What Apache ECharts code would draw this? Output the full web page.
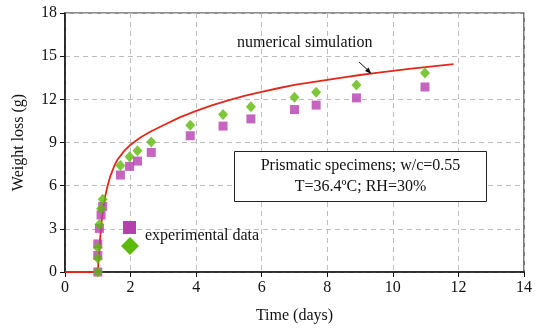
<!DOCTYPE html>
<html><head><meta charset="utf-8">
<script src="https://cdn.jsdelivr.net/npm/echarts@6/dist/echarts.min.js"></script>
<style>html,body{margin:0;padding:0;background:#fff}#c{width:535px;height:332px}</style>
</head><body><div id="c"></div>
<script>
var xTicks = [0, 2, 4, 6, 8, 10, 12, 14];
var yTicks = [0, 3, 6, 9, 12, 15, 18];
var simX = [0, 1.0, 1.03, 1.07, 1.12, 1.17, 1.23, 1.3, 1.38, 1.5, 1.6, 1.8, 2.0, 2.3, 2.6, 3.0, 3.5, 4.0, 4.5, 5.0, 5.5, 6.0, 6.5, 7.0, 7.5, 8.0, 8.5, 9.0, 9.5, 10.0, 10.5, 11.0, 11.85];
var simY = [0, 0, 1.0, 2.3, 3.6, 4.5, 5.3, 6.0, 6.65, 7.35, 7.8, 8.4, 8.85, 9.35, 9.75, 10.2, 10.75, 11.2, 11.6, 11.95, 12.25, 12.52, 12.77, 13.0, 13.18, 13.36, 13.53, 13.69, 13.84, 13.98, 14.11, 14.24, 14.45];
var greenX = [1.0, 1.0, 1.0, 1.05, 1.1, 1.15, 1.69, 1.97, 2.21, 2.63, 3.82, 4.82, 5.67, 7.0, 7.66, 8.89, 10.98];
var greenY = [0, 0.95, 1.7, 3.3, 4.4, 5.05, 7.41, 8.01, 8.43, 9.03, 10.2, 10.94, 11.48, 12.15, 12.5, 13.0, 13.83];
var magX = [1.0, 1.0, 1.0, 1.05, 1.1, 1.15, 1.69, 1.97, 2.21, 2.63, 3.82, 4.82, 5.67, 7.0, 7.66, 8.89, 10.98];
var magY = [0, 1.15, 1.95, 3.03, 3.96, 4.56, 6.74, 7.34, 7.71, 8.31, 9.47, 10.14, 10.64, 11.29, 11.6, 12.1, 12.86];

function zip(a, b) { return a.map(function (v, i) { return [v, b[i]]; }); }
var FONT = 'Liberation Serif';
var chart = echarts.init(document.getElementById('c'));
var gridLine = { show: true, lineStyle: { color: '#bdbdbd', type: [5, 4], width: 1 } };
chart.setOption({
  animation: false,
  textStyle: { fontFamily: FONT },
  grid: { left: 65, right: 10, top: 13, bottom: 60, show: true, borderColor: '#222', borderWidth: 1.2 },
  xAxis: {
    type: 'value', min: xTicks[0], max: xTicks[xTicks.length - 1], interval: 2,
    name: 'Time (days)', nameLocation: 'middle', nameGap: 36,
    nameTextStyle: { fontFamily: FONT, fontSize: 16, color: '#111' },
    axisLine: { lineStyle: { color: '#111', width: 1.5 } },
    axisTick: { show: true, length: 5, lineStyle: { color: '#111' } },
    axisLabel: { fontFamily: FONT, fontSize: 16, color: '#111', margin: 8 },
    splitLine: gridLine
  },
  yAxis: {
    type: 'value', min: yTicks[0], max: yTicks[yTicks.length - 1], interval: 3,
    name: 'Weight loss (g)', nameLocation: 'middle', nameGap: 38,
    nameTextStyle: { fontFamily: FONT, fontSize: 16, color: '#111' },
    axisLine: { lineStyle: { color: '#111', width: 1.5 } },
    axisTick: { show: true, length: 5, lineStyle: { color: '#111' } },
    axisLabel: { fontFamily: FONT, fontSize: 16, color: '#111', margin: 8 },
    splitLine: gridLine
  },
  series: [
    { type: 'line', data: zip(simX, simY), showSymbol: false, smooth: false,
      lineStyle: { color: '#e5271b', width: 1.8, join: 'round' }, z: 2 },
    { type: 'scatter', data: zip(magX, magY), symbol: 'rect', symbolSize: 9,
      itemStyle: { color: '#b63fb0' }, z: 3 },
    { type: 'scatter', data: zip(greenX, greenY), symbol: 'diamond', symbolSize: [10, 11],
      itemStyle: { color: '#5db90a' }, z: 4 }
  ],
  graphic: [
    { type: 'text', left: 237, top: 35, z: 100, style: { text: 'numerical simulation', font: '16px "Liberation Serif"', fill: '#111' } },
    { type: 'line', z: 100, shape: { x1: 359, y1: 62, x2: 370, y2: 72 }, style: { stroke: '#111', lineWidth: 1 } },
    { type: 'polygon', z: 100, shape: { points: [[371.5, 74], [365, 71], [368.5, 67.5]] }, style: { fill: '#111' } },
    { type: 'rect', z: 100, shape: { x: 123, y: 221, width: 13, height: 13 }, style: { fill: '#b63fb0' } },
    { type: 'polygon', z: 100, shape: { points: [[130, 237], [139, 246], [130, 255], [121, 246]] }, style: { fill: '#5db90a' } },
    { type: 'text', z: 100, left: 145, top: 228, style: { text: 'experimental data', font: '16px "Liberation Serif"', fill: '#111' } },
    { type: 'rect', shape: { x: 234.5, y: 151.5, width: 252, height: 50 }, style: { fill: '#fff', stroke: '#222', lineWidth: 1 }, z: 100 },
    { type: 'text', x: 360.5, y: 176.5, z: 101, style: { text: 'Prismatic specimens; w/c=0.55\nT=36.4ºC; RH=30%', font: '16px "Liberation Serif"', fill: '#111', align: 'center', verticalAlign: 'middle', lineHeight: 21 } }
  ]
});
</script></body></html>
